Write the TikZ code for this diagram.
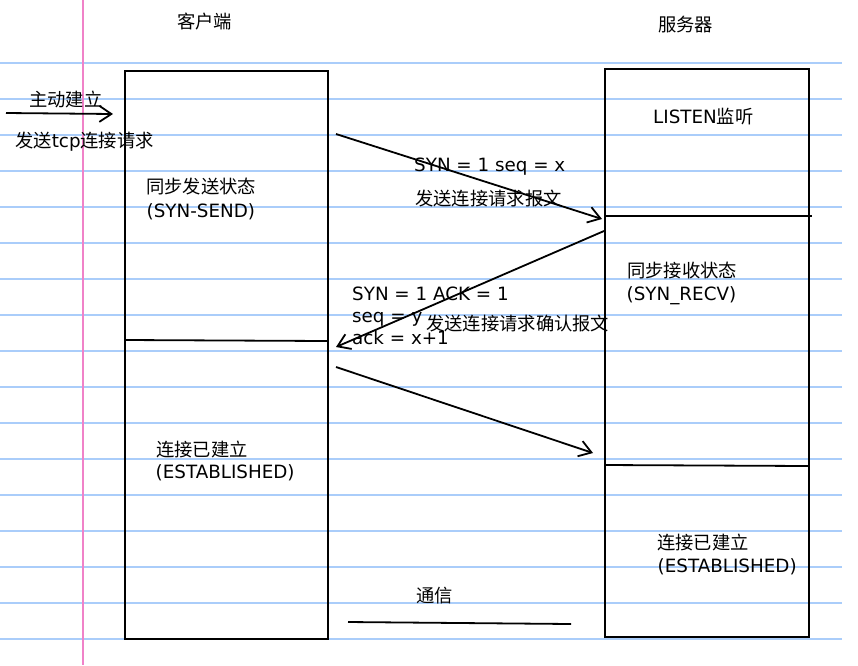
\documentclass[tikz,border=0pt]{standalone}
\usepackage{fontspec}
\setmainfont{DejaVu Sans}
\newfontfamily\cjk{Noto Sans CJK SC}
\usetikzlibrary{arrows.meta}
\definecolor{ruleblue}{RGB}{170,205,250}
\definecolor{marginpink}{RGB}{240,130,200}
\begin{document}
\begin{tikzpicture}[x=1pt,y=-1pt,
  txt/.style={inner sep=0pt, anchor=base west, font=\fontsize{18.3}{22}\selectfont},
  box/.style={draw=black, line width=1.8pt, inner sep=0pt, anchor=north west},
  divider/.style={draw=black, line width=1.8pt},
  msg/.style={draw=black, line width=1.8pt, -{Straight Barb[length=12pt,width=16pt]}},
  rule/.style={draw=ruleblue, line width=1.6pt},
  margin/.style={draw=marginpink, line width=1.3pt},
]
\fill[white] (0,0) rectangle (858,665);
\useasboundingbox (0,0) rectangle (858,665);
% ruled paper
\foreach \k in {0,...,16}{
  \draw[rule] (0,63+36*\k) -- (842,63+36*\k);
}
\draw[margin] (83,0) -- (83,665);

% boxes
\node[box, minimum width=203pt, minimum height=568pt] (client) at (124,70) {};
\node[box, minimum width=204pt, minimum height=568pt] (server) at (604,68) {};

% dividers
\coordinate (cd1) at (126,340);
\coordinate (cd2) at (327,341);
\draw[divider] (cd1) -- (cd2);
\coordinate (sd1) at (604,216);
\coordinate (sd2) at (812,216);
\draw[divider] (sd1) -- (sd2);
\coordinate (sd3) at (605,465);
\coordinate (sd4) at (808,466);
\draw[divider] (sd3) -- (sd4);

% arrows
\coordinate (a1s) at (6,113);
\coordinate (a1e) at (113,114);
\draw[msg] (a1s) -- (a1e);
\coordinate (a2s) at (336,134);
\coordinate (a2e) at (602,219);
\draw[msg] (a2s) -- (a2e);
\coordinate (a3s) at (604,231);
\coordinate (a3e) at (336,347);
\draw[msg] (a3s) -- (a3e);
\coordinate (a4s) at (336,367);
\coordinate (a4e) at (593,453);
\draw[msg] (a4s) -- (a4e);
\coordinate (c1) at (348,622);
\coordinate (c2) at (571,624);
\draw[divider] (c1) -- (c2);

% texts
\node[txt] (tclient) at (177,28.5) {\cjk 客户端};
\node[txt] (tserver) at (658,31.5) {\cjk 服务器};
\node[txt] (tactive) at (29,106.5) {\cjk 主动建立};
\node[txt] (tsendreq) at (15,147) {{\cjk 发送}tcp{\cjk 连接请求}};
\node[txt] (tlisten) at (653,123) {LISTEN{\cjk 监听}};
\node[txt] (tsyn1) at (414,171) {SYN = 1 seq = x};
\node[txt] (tsyn1b) at (415,205) {\cjk 发送连接请求报文};
\node[txt] (tss1) at (146,193.5) {\cjk 同步发送状态};
\node[txt] (tss2) at (146.5,217) {(SYN-SEND)};
\node[txt] (tsr1) at (627,277) {\cjk 同步接收状态};
\node[txt] (tsr2) at (626.5,300) {(SYN\_RECV)};
\node[txt] (tack1) at (352,300) {SYN = 1 ACK = 1};
\node[txt] (tack2) at (352,322) {seq = y};
\node[txt] (tack3) at (352,344) {ack = x+1};
\node[txt] (tackc) at (426,330.5) {\cjk 发送连接请求确认报文};
\node[txt] (tce1) at (156,456.5) {\cjk 连接已建立};
\node[txt] (tce2) at (155.5,478.5) {(ESTABLISHED)};
\node[txt] (tse1) at (657,549) {\cjk 连接已建立};
\node[txt] (tse2) at (657.5,572) {(ESTABLISHED)};
\node[txt] (tcomm) at (416,602) {\cjk 通信};
\end{tikzpicture}
\end{document}
